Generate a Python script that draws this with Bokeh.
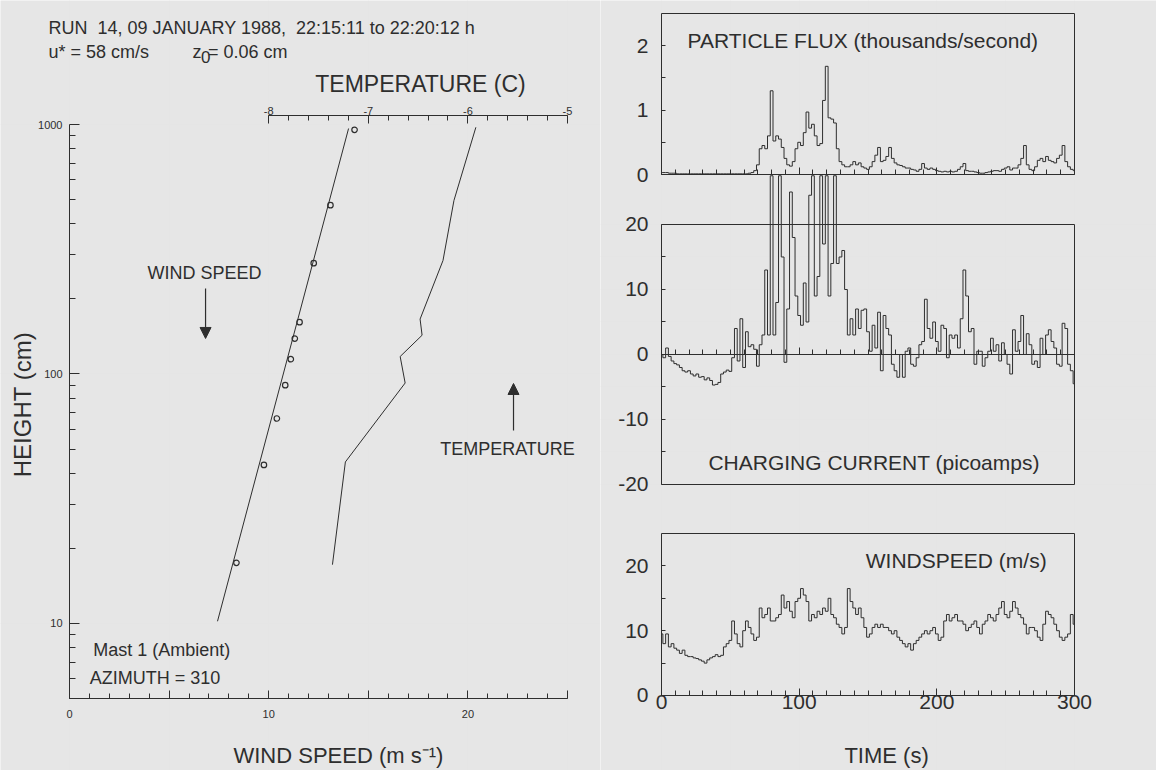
from bokeh.plotting import figure
from bokeh.models import (Range1d, LinearAxis, LogAxis, FixedTicker, Label, Arrow,
                          NormalHead, NumeralTickFormatter)
from bokeh.layouts import row
from bokeh.embed import file_html
from bokeh.resources import INLINE

FONT = "Liberation Sans"
INK = "#2e2e2e"
BG = "#e6e6e6"

# ---------------- profile data (left panel) ----------------
obs_height = [17.5, 43.2, 66.3, 90.2, 114.6, 138.7, 161.3, 278.1, 474.9, 952.6]
obs_speed = [8.38, 9.76, 10.41, 10.83, 11.11, 11.31, 11.55, 12.26, 13.10, 14.31]
fit_height = [10.2, 964]
fit_speed = [7.43, 14.01]
temp_height = [17.2, 44.4, 92.0, 117.5, 143.0, 166.0, 285.0, 496.0, 975.0]
temp_c = [-7.36, -7.23, -6.63, -6.68, -6.46, -6.48, -6.25, -6.14, -5.92]

# ---------------- time series (right panels), every 2 s ----------------
time_s = list(range(0, 301, 2))
flux = [0.03, 0.03, 0.03, 0.02, 0.02, 0.02, 0.01, 0.01, 0.01, 0.01,
        0.01, 0.01, 0.01, 0.01, 0.01, 0.01, 0.01, 0.01, 0.01, 0.01,
        0.01, 0.01, 0.01, 0.01, 0.01, 0.01, 0.01, 0.01, 0.01, 0.01,
        0.01, 0.01, 0.02, 0.03, 0.06, 0.15, 0.40, 0.45, 0.40, 0.60,
        1.30, 0.52, 0.60, 0.55, 0.42, 0.25, 0.15, 0.13, 0.20, 0.40,
        0.50, 0.45, 0.65, 0.97, 0.72, 0.78, 0.60, 0.45, 0.48, 1.15,
        1.68, 0.88, 0.86, 0.80, 0.40, 0.20, 0.15, 0.12, 0.12, 0.15,
        0.20, 0.15, 0.18, 0.12, 0.10, 0.08, 0.12, 0.20, 0.30, 0.42,
        0.20, 0.22, 0.28, 0.42, 0.25, 0.18, 0.15, 0.14, 0.12, 0.10,
        0.10, 0.08, 0.07, 0.05, 0.08, 0.17, 0.10, 0.08, 0.10, 0.08,
        0.06, 0.05, 0.04, 0.05, 0.04, 0.05, 0.04, 0.05, 0.08, 0.12,
        0.17, 0.06, 0.05, 0.05, 0.04, 0.03, 0.02, 0.02, 0.03, 0.04,
        0.05, 0.06, 0.06, 0.05, 0.08, 0.10, 0.12, 0.07, 0.10, 0.10,
        0.15, 0.25, 0.45, 0.15, 0.08, 0.06, 0.12, 0.22, 0.25, 0.20,
        0.28, 0.22, 0.20, 0.18, 0.25, 0.30, 0.45, 0.20, 0.12, 0.08,
        0.06]
current = [0.0, -0.5, 1.0, -0.3, -1.0, -1.4, -1.6, -2.0, -2.5, -2.7,
           -2.5, -3.0, -3.3, -3.0, -3.5, -3.4, -3.9, -3.6, -4.0, -4.7,
           -4.6, -4.3, -3.0, -2.7, -2.4, -2.6, -0.5, 4.0, -1.0, 5.5,
           -2.0, 3.5, 1.2, 1.5, 0.8, -1.8, 1.5, 3.0, 13.0, 3.0,
           27.5, 3.0, 8.0, 27.5, 15.0, -1.2, 7.0, 25.0, 18.0, 9.0,
           6.0, 4.5, 11.0, 5.0, 24.5, 27.5, 9.0, 12.0, 27.5, 17.0,
           27.5, 9.0, 14.0, 27.5, 14.0, 15.0, 16.0, 10.0, 3.0, 5.5,
           3.0, 7.0, 4.0, 6.8, 7.0, 3.5, 0.5, 4.5, 1.0, 6.5,
           -2.5, 6.0, 4.0, 3.0, -1.5, -2.5, -3.5, 0.0, -3.5, 0.5,
           1.0, -1.5, -1.8, -0.5, 1.5, 2.0, 8.5, 4.0, 2.5, 5.0,
           2.0, 0.5, 4.5, 4.0, -0.5, 3.0, 2.5, 3.0, 1.0, 5.5,
           13.0, 9.0, 3.5, 4.0, -1.5, 0.5, 0.5, -1.8, -0.5, 0.5,
           2.5, 0.5, 1.5, -1.0, 1.8, 0.0, -1.5, -3.0, 3.8, 0.5,
           2.0, 6.0, 0.0, 3.2, 1.5, -1.5, -1.0, -2.0, 2.5, 0.0,
           3.0, 3.8, 2.0, 1.0, -1.5, -1.8, 4.8, 4.0, -1.5, -2.5,
           -4.5]
windspeed = [9.5, 8.0, 9.5, 7.5, 8.0, 7.3, 7.0, 6.5, 7.0, 6.2,
             6.0, 6.0, 5.8, 5.7, 5.5, 5.3, 5.0, 5.5, 5.8, 6.0,
             6.3, 6.0, 6.2, 7.5, 8.0, 8.5, 11.5, 9.5, 8.0, 7.5,
             10.0, 11.5, 10.5, 9.5, 8.5, 9.0, 13.5, 12.0, 12.5, 13.5,
             11.5, 11.5, 12.0, 12.5, 15.5, 13.5, 14.5, 13.0, 12.0, 14.5,
             15.0, 16.5, 15.5, 14.5, 11.5, 12.5, 12.0, 13.0, 12.5, 13.5,
             13.0, 15.0, 12.5, 12.0, 11.0, 10.5, 9.5, 10.5, 16.5, 14.5,
             13.5, 12.5, 13.5, 12.0, 10.5, 9.0, 9.5, 10.5, 11.0, 10.5,
             11.0, 10.5, 10.5, 10.0, 9.5, 10.0, 9.0, 8.5, 8.0, 7.5,
             8.0, 7.0, 8.0, 8.5, 9.0, 9.5, 10.0, 9.5, 10.0, 10.5,
             9.5, 8.5, 9.0, 11.5, 12.5, 11.5, 12.0, 12.5, 11.5, 11.5,
             11.0, 10.0, 10.5, 11.0, 11.5, 10.5, 9.5, 11.0, 11.5, 12.5,
             12.0, 11.5, 12.5, 13.5, 14.5, 12.5, 12.0, 13.0, 14.5, 13.5,
             12.5, 12.0, 11.0, 9.5, 10.5, 10.5, 10.0, 9.0, 8.5, 11.0,
             13.0, 12.5, 12.0, 11.0, 10.0, 9.0, 8.5, 9.0, 9.5, 12.5,
             11.0]

# tick positions
height_ticks = [10, 100, 1000]
height_minor = list(range(5, 10)) + [m * 10 for m in range(2, 10)] + [m * 100 for m in range(2, 10)]
speed_ticks = [0, 5, 10, 15, 20, 25]
temp_ticks = [-8, -7, -6, -5]
temp_minor = [round(-8 + 0.2 * i, 1) for i in range(16)]
time_ticks = [0, 100, 200, 300]
time_minor = list(range(0, 301, 10))


def style_axis(ax, maj_in=0, min_in=0, size="11px", standoff=5):
    ax.axis_line_color = INK
    ax.axis_line_width = 1
    ax.major_tick_line_color = INK
    ax.minor_tick_line_color = INK
    ax.major_tick_in = maj_in
    ax.major_tick_out = 0
    ax.minor_tick_in = min_in
    ax.minor_tick_out = 0
    ax.major_label_text_font = FONT
    ax.major_label_text_font_size = size
    ax.major_label_text_color = INK
    ax.major_label_standoff = standoff
    return ax


def hyphen_labels(ticks):
    # plain ASCII hyphen for negative tick labels, as in the original
    return {t: str(t) for t in ticks if t < 0}


def lbl(fig, x, y, text, size, align="left", angle=0.0, **kw):
    fig.add_layout(Label(x=x, y=y, text=text, text_font=FONT, text_font_size=size,
                         text_color=INK, text_align=align, text_baseline="middle",
                         angle=angle, **kw))


def base(fig):
    fig.background_fill_color = BG
    fig.border_fill_color = BG
    fig.outline_line_color = None
    fig.min_border = 0


# ---------------- left: profiles (frame covers whole canvas) ----------------
L = figure(width=600, height=770, title=None,
           x_range=Range1d(-3.464, 26.657), y_range=Range1d(2.5727, 3142.5),
           y_axis_type="log", x_axis_location=None, y_axis_location=None,
           output_backend="svg", toolbar_location=None)
base(L)
L.extra_x_ranges = {"temp": Range1d(-10.6928, -4.6686)}

yax = LogAxis(bounds=(5, 1000), fixed_location=0,
              ticker=FixedTicker(ticks=height_ticks, minor_ticks=height_minor),
              formatter=NumeralTickFormatter(format="0"))
L.add_layout(style_axis(yax, 10, 6, "11px", 7), "left")

xax = LinearAxis(bounds=(0, 25), fixed_location=5,
                 ticker=FixedTicker(ticks=speed_ticks, minor_ticks=list(range(0, 26))),
                 major_label_overrides={5: "", 15: "", 25: ""})
L.add_layout(style_axis(xax, 8, 5, "11px", 11), "below")

tax = LinearAxis(x_range_name="temp", bounds=(-8, -5), fixed_location=1087,
                 ticker=FixedTicker(ticks=temp_ticks, minor_ticks=temp_minor),
                 major_label_overrides=hyphen_labels(temp_ticks))
L.add_layout(style_axis(tax, 8, 5, "11px", 1), "above")

L.line(fit_speed, fit_height, line_color=INK, line_width=1)
L.scatter(obs_speed, obs_height, marker="circle", size=5.5, fill_color=None,
          line_color=INK, line_width=1.2)
L.line(temp_c, temp_height, x_range_name="temp", line_color=INK, line_width=1)

lbl(L, -1.054, 2427, "RUN\u00a0 14, 09 JANUARY 1988,\u00a0 22:15:11 to 22:20:12 h", "18px")
lbl(L, -1.054, 1945, "u* = 58 cm/s", "18px")
lbl(L, 6.175, 1945, "z", "18px")
lbl(L, 6.60, 1857, "0", "17px")
lbl(L, 6.95, 1945, "= 0.06 cm", "18px")
lbl(L, 17.62, 1460, "TEMPERATURE (C)", "23px", align="center")
lbl(L, -2.36, 75.4, "HEIGHT (cm)", "24px", align="center", angle=1.5707963)
lbl(L, 13.5, 2.954, "WIND SPEED (m s\u207b\u00b9)", "22px", align="center")
lbl(L, 6.78, 253.5, "WIND SPEED", "18px", align="center")
lbl(L, 21.99, 50.25, "TEMPERATURE", "18px", align="center")
lbl(L, 1.19, 7.79, "Mast 1 (Ambient)", "18px")
lbl(L, 1.02, 6.07, "AZIMUTH = 310", "18px")
L.add_layout(Arrow(end=NormalHead(size=11, fill_color=INK, line_color=INK),
                   x_start=6.83, y_start=220.2, x_end=6.83, y_end=138.8,
                   line_color=INK, line_width=1.2))
L.add_layout(Arrow(end=NormalHead(size=11, fill_color=INK, line_color=INK),
                   x_start=22.29, y_start=59.35, x_end=22.29, y_end=91.6,
                   line_color=INK, line_width=1.2))

# ---------------- right: three stacked time-series panels ----------------
R = figure(width=556, height=770, title=None,
           x_range=Range1d(-44.31, 359.56), y_range=Range1d(-64.0, 54.46),
           x_axis_location=None, y_axis_location=None,
           output_backend="svg", toolbar_location=None)
base(R)
R.extra_y_ranges = {"flux": Range1d(-9.255, 2.702), "wind": Range1d(-11.574, 107.25)}


def frame_box(rng, lo, hi, left_ticks, left_minor, zero_labels=False):
    kw = {} if rng is None else {"y_range_name": rng}
    lax = LinearAxis(bounds=(lo, hi), fixed_location=0,
                     ticker=FixedTicker(ticks=left_ticks, minor_ticks=left_minor),
                     major_label_overrides=hyphen_labels(left_ticks), **kw)
    R.add_layout(style_axis(lax, 4, 4, "21px", 13), "left")
    rax = LinearAxis(bounds=(lo, hi), fixed_location=300, ticker=FixedTicker(ticks=[]), **kw)
    R.add_layout(style_axis(rax), "right")
    tax_ = LinearAxis(bounds=(0, 300), fixed_location=hi, ticker=FixedTicker(ticks=[]), **kw)
    R.add_layout(style_axis(tax_), "above")
    if lo < 0:
        bax = LinearAxis(bounds=(0, 300), fixed_location=lo, ticker=FixedTicker(ticks=[]), **kw)
        R.add_layout(style_axis(bax), "below")
    zax = LinearAxis(bounds=(0, 300), fixed_location=0,
                     ticker=FixedTicker(ticks=time_ticks, minor_ticks=time_minor), **kw)
    if not zero_labels:
        zax.major_label_overrides = {0: "", 100: "", 200: "", 300: ""}
    R.add_layout(style_axis(zax, 7, 5, "21px", 0), "below")


frame_box("flux", 0, 2.5, [0, 1, 2], [0.5, 1.5])
frame_box(None, -20, 20, [-20, -10, 0, 10, 20], [-15, -5, 5, 15])
frame_box("wind", 0, 25, [0, 10, 20], [5, 15], zero_labels=True)

R.step(time_s, flux, mode="center", y_range_name="flux", line_color=INK, line_width=1)
R.step(time_s, current, mode="center", line_color=INK, line_width=1)
R.step(time_s, windspeed, mode="center", y_range_name="wind", line_color=INK, line_width=1)

lbl(R, 18.9, 2.08, "PARTICLE FLUX (thousands/second)", "21px", y_range_name="flux")
lbl(R, 34.1, -16.6, "CHARGING CURRENT (picoamps)", "21px")
lbl(R, 148.4, 20.9, "WINDSPEED (m/s)", "21px", y_range_name="wind")
lbl(R, 163.5, -9.26, "TIME (s)", "22px", align="center", y_range_name="wind")

layout = row(L, R)
open("out.html", "w").write(file_html(layout, INLINE))
